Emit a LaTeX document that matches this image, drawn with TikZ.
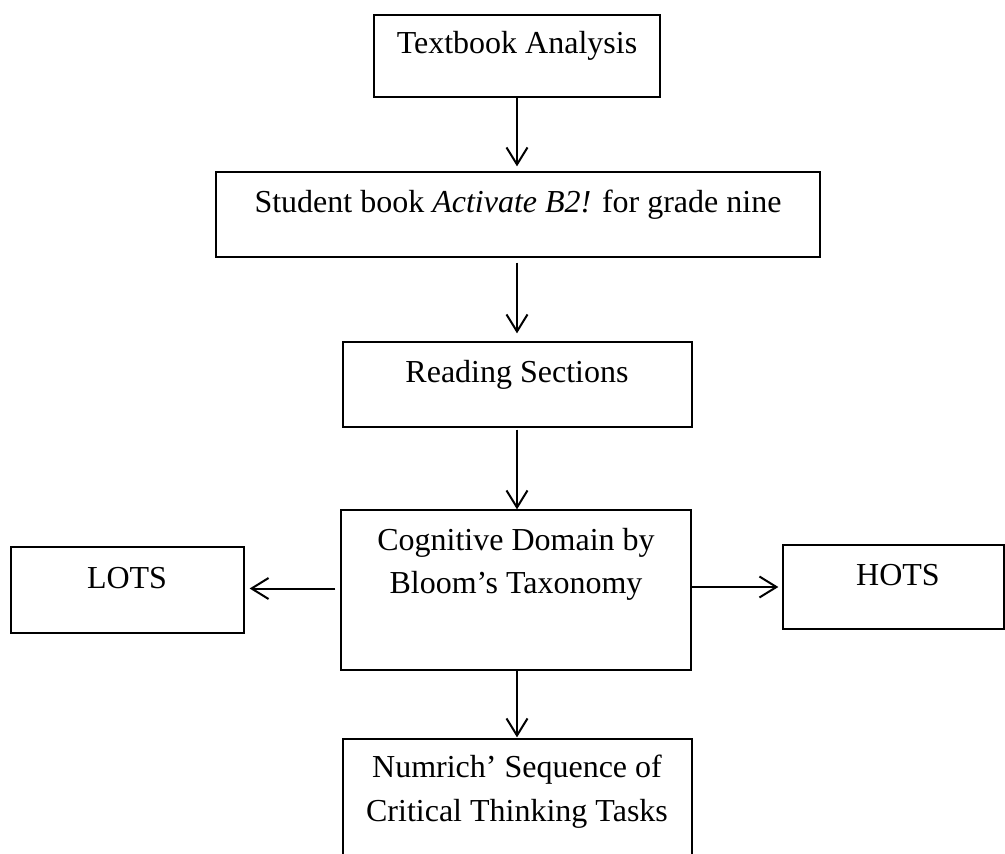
\documentclass[tikz,border=0pt]{standalone}
\usepackage{fontspec}
\setmainfont{Liberation Serif}
\usetikzlibrary{arrows.meta}
\begin{document}
\begin{tikzpicture}[x=1pt,y=-1pt,
  box/.style={draw, line width=1.3pt, inner sep=0pt},
  lbl/.style={anchor=base, inner sep=0pt, font=\fontsize{32}{44}\selectfont, align=center},
  conn/.style={line width=2pt, -{Straight Barb[length=17pt,width=21pt,line width=2pt]}}]
\useasboundingbox (0,0) rectangle (1005,854);
\clip (0,0) rectangle (1005,854);
% boxes
\node[box, minimum width=286pt, minimum height=82pt] (ta) at (517,56) {};
\node[box, minimum width=604pt, minimum height=85pt] (st) at (518,214.5) {};
\node[box, minimum width=349pt, minimum height=85pt] (rs) at (517.5,384.5) {};
\node[box, minimum width=350pt, minimum height=160pt] (cd) at (516,590) {};
\node[box, minimum width=233pt, minimum height=86pt] (lo) at (127.5,590) {};
\node[box, minimum width=221pt, minimum height=84pt] (ho) at (893.5,587) {};
\node[box, minimum width=349pt, minimum height=141pt] (nu) at (517.5,809.5) {};
% texts
\node[lbl] (tat) at (517,53) {Textbook Analysis};
\node[lbl] (stt) at (518,212) {Student book {\itshape Activate B2!} for grade nine};
\node[lbl] (rst) at (517,382) {Reading Sections};
\node[lbl] (cdt1) at (516,550) {Cognitive Domain by};
\node[lbl] (cdt2) at (516,593) {Bloom’s Taxonomy};
\node[lbl] (lot) at (127,588) {LOTS};
\node[lbl] (hot) at (898,585) {HOTS};
\node[lbl] (nut1) at (517,777) {Numrich’ Sequence of};
\node[lbl] (nut2) at (517,821) {Critical Thinking Tasks};
% connectors
\draw[conn, shorten >=5pt] (ta.south) -- (ta.south |- st.north);
\draw[conn, shorten <=5pt, shorten >=8pt] (ta.south |- st.south) -- (ta.south |- rs.north);
\draw[conn, shorten <=2pt] (ta.south |- rs.south) -- (ta.south |- cd.north);
\draw[conn, shorten <=5pt, shorten >=5pt] ([yshift=1.5pt]cd.west) -- ([yshift=1.5pt]lo.east);
\draw[conn, shorten >=4pt] (cd.east |- ho.west) -- (ho.west);
\draw[conn, shorten >=1pt] (ta.south |- cd.south) -- (ta.south |- nu.north);
\end{tikzpicture}
\end{document}
